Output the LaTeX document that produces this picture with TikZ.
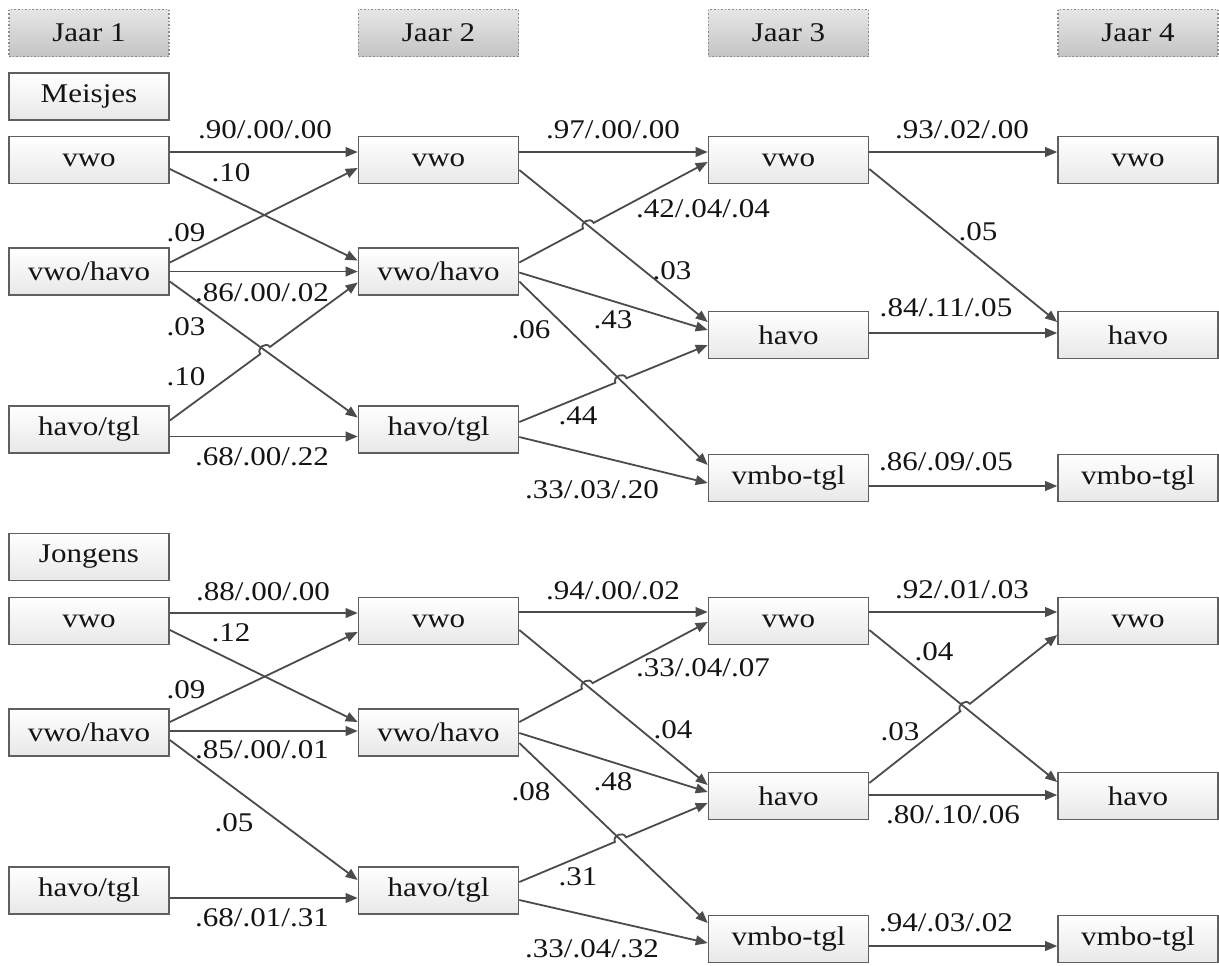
\documentclass[tikz,border=0pt]{standalone}
\usepackage{fontspec}
\setmainfont{Liberation Serif}[FakeStretch=1.15]
\usetikzlibrary{arrows.meta,calc,intersections}
\definecolor{boxline}{RGB}{95,95,95}
\definecolor{boxbot}{RGB}{232,232,232}
\definecolor{hdrline}{RGB}{140,140,140}
\definecolor{hdrtop}{RGB}{230,230,230}
\definecolor{hdrbot}{RGB}{196,196,196}
\definecolor{edgecol}{RGB}{75,75,75}
\definecolor{txt}{RGB}{20,20,20}
\newcommand\ed[4]{\draw[edge] ($(#1.east)+(0,#2)$) -- ($(#3.west)+(0,#4)$);}
\newcommand\hed[8]{%
  \coordinate (ha) at ($(#1.east)+(0,#2)$);
  \coordinate (hb) at ($(#3.west)+(0,#4)$);
  \coordinate (hc) at ($(#5.east)+(0,#6)$);
  \coordinate (hd) at ($(#7.west)+(0,#8)$);
  \path[name path=hpa] (ha) -- (hb);
  \path[name path=hpb] (hc) -- (hd);
  \path[name intersections={of=hpa and hpb, by=hpx}];
  \draw[edge] (ha) -- ($(hpx)!3pt!(ha)$) to[bend left=90,looseness=1.5] ($(hpx)!3pt!(hb)$) -- (hb);
}
\begin{document}
\begin{tikzpicture}[x=0.5pt,y=-0.5pt,
  box/.style={draw=boxline, line width=0.8pt, top color=white, bottom color=boxbot,
    minimum width=80pt, minimum height=23.5pt, inner sep=0pt, text=txt,
    font=\fontsize{13.5}{16}\selectfont},
  hdr/.style={box, draw=hdrline, densely dotted, top color=hdrtop, bottom color=hdrbot},
  edge/.style={draw=edgecol, line width=0.9pt, -{Triangle[length=6pt,width=4.8pt]}},
  lbl/.style={inner sep=0pt, text=txt, font=\fontsize{13.5}{16}\selectfont}]
\useasboundingbox (0,0) rectangle (1219,965);
% headers
\node[hdr] (h1) at (89,33) {Jaar 1};
\node[hdr] (h2) at (438.5,33) {Jaar 2};
\node[hdr] (h3) at (788.5,33) {Jaar 3};
\node[hdr] (h4) at (1138,33) {Jaar 4};
\node[box] (mlab) at (89,96.5) {Meisjes};
\node[box] (jlab) at (89,557) {Jongens};
% Meisjes nodes
\node[box] (mv1) at (89,160) {vwo};
\node[box] (mvh1) at (89,271.5) {vwo/havo};
\node[box] (mht1) at (89,429.5) {havo/tgl};
\node[box] (mv2) at (438.5,160) {vwo};
\node[box] (mvh2) at (438.5,271.5) {vwo/havo};
\node[box] (mht2) at (438.5,429.5) {havo/tgl};
\node[box] (mv3) at (788.5,160) {vwo};
\node[box] (mha3) at (788.5,335) {havo};
\node[box] (mvm3) at (788.5,478) {vmbo-tgl};
\node[box] (mv4) at (1138,160) {vwo};
\node[box] (mha4) at (1138,335) {havo};
\node[box] (mvm4) at (1138,478) {vmbo-tgl};
% Jongens nodes
\node[box] (jv1) at (89,621) {vwo};
\node[box] (jvh1) at (89,732.5) {vwo/havo};
\node[box] (jht1) at (89,890.5) {havo/tgl};
\node[box] (jv2) at (438.5,621) {vwo};
\node[box] (jvh2) at (438.5,732.5) {vwo/havo};
\node[box] (jht2) at (438.5,890.5) {havo/tgl};
\node[box] (jv3) at (788.5,621) {vwo};
\node[box] (jha3) at (788.5,796) {havo};
\node[box] (jvm3) at (788.5,939) {vmbo-tgl};
\node[box] (jv4) at (1138,621) {vwo};
\node[box] (jha4) at (1138,796) {havo};
\node[box] (jvm4) at (1138,939) {vmbo-tgl};
% Meisjes edges
\ed{mv1}{-8}{mv2}{-8}
\ed{mv1}{9}{mvh2}{-11}
\ed{mvh1}{-9}{mv2}{8}
\ed{mvh1}{0}{mvh2}{0}
\ed{mvh1}{10}{mht2}{-12}
\hed{mht1}{-9}{mvh2}{11}{mvh1}{10}{mht2}{-12}
\ed{mht1}{7}{mht2}{7}
\ed{mv2}{-8}{mv3}{-8}
\ed{mv2}{10}{mha3}{-13}
\hed{mvh2}{-9}{mv3}{2}{mv2}{10}{mha3}{-13}
\ed{mvh2}{1}{mha3}{-5}
\ed{mvh2}{10}{mvm3}{-13}
\hed{mht2}{-7.5}{mha3}{10}{mvh2}{10}{mvm3}{-13}
\ed{mht2}{7.5}{mvm3}{5}
\ed{mv3}{-8}{mv4}{-8}
\ed{mv3}{9}{mha4}{-13}
\ed{mha3}{-2}{mha4}{-2}
\ed{mvm3}{8}{mvm4}{8}
% Jongens edges
\ed{jv1}{-8}{jv2}{-8}
\ed{jv1}{9}{jvh2}{-10.5}
\ed{jvh1}{-10.5}{jv2}{11}
\ed{jvh1}{-1.5}{jvh2}{-1.5}
\ed{jvh1}{7.5}{jht2}{-10.5}
\ed{jht1}{7.5}{jht2}{7.5}
\ed{jv2}{-9}{jv3}{-9}
\ed{jv2}{9}{jha3}{-11}
\hed{jvh2}{-10.5}{jv3}{1}{jv2}{9}{jha3}{-11}
\ed{jvh2}{0.5}{jha3}{-4}
\ed{jvh2}{10.5}{jvm3}{-16}
\hed{jht2}{-8.5}{jha3}{7}{jvh2}{10.5}{jvm3}{-16}
\ed{jht2}{9.5}{jvm3}{4}
\ed{jv3}{-9}{jv4}{-9}
\ed{jv3}{9}{jha4}{-14}
\hed{jha3}{-13}{jv4}{14}{jv3}{9}{jha4}{-14}
\ed{jha3}{-1}{jha4}{-1}
\ed{jvm3}{7}{jvm4}{7}
% Meisjes labels
\node[lbl] (lm1) at (265,130) {.90/.00/.00};
\node[lbl] (lm2) at (231,173) {.10};
\node[lbl] (lm3) at (186,233) {.09};
\node[lbl] (lm4) at (262,293) {.86/.00/.02};
\node[lbl] (lm5) at (186,327) {.03};
\node[lbl] (lm6) at (186,377) {.10};
\node[lbl] (lm7) at (262,457) {.68/.00/.22};
\node[lbl] (lm8) at (613,130) {.97/.00/.00};
\node[lbl] (lm9) at (672,271) {.03};
\node[lbl] (lm10) at (703,209) {.42/.04/.04};
\node[lbl] (lm11) at (613,320) {.43};
\node[lbl] (lm12) at (531,330) {.06};
\node[lbl] (lm13) at (578,416) {.44};
\node[lbl] (lm14) at (592,490) {.33/.03/.20};
\node[lbl] (lm15) at (962,130) {.93/.02/.00};
\node[lbl] (lm16) at (978,232) {.05};
\node[lbl] (lm17) at (946,308) {.84/.11/.05};
\node[lbl] (lm18) at (946,462) {.86/.09/.05};
% Jongens labels
\node[lbl] (lj1) at (263,592) {.88/.00/.00};
\node[lbl] (lj2) at (231,633) {.12};
\node[lbl] (lj3) at (186,690) {.09};
\node[lbl] (lj4) at (262,750) {.85/.00/.01};
\node[lbl] (lj5) at (234,823) {.05};
\node[lbl] (lj6) at (262,918) {.68/.01/.31};
\node[lbl] (lj7) at (613,591) {.94/.00/.02};
\node[lbl] (lj8) at (673,730) {.04};
\node[lbl] (lj9) at (703,668) {.33/.04/.07};
\node[lbl] (lj10) at (613,782) {.48};
\node[lbl] (lj11) at (531,792) {.08};
\node[lbl] (lj12) at (578,877) {.31};
\node[lbl] (lj13) at (592,949) {.33/.04/.32};
\node[lbl] (lj14) at (962,590) {.92/.01/.03};
\node[lbl] (lj15) at (934,652) {.04};
\node[lbl] (lj16) at (900,732) {.03};
\node[lbl] (lj17) at (953,815) {.80/.10/.06};
\node[lbl] (lj18) at (946,923) {.94/.03/.02};
\end{tikzpicture}
\end{document}
